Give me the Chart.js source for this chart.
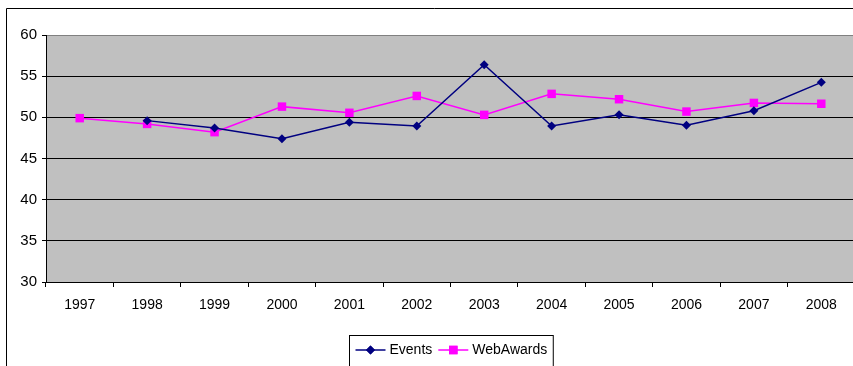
<!DOCTYPE html>
<html>
<head>
<meta charset="utf-8">
<script src="https://cdn.jsdelivr.net/npm/chart.js@4/dist/chart.umd.min.js"></script>
<style>
    html, body { margin: 0; padding: 0; background: #fff; overflow: hidden; }
    #wrap { width: 862px; height: 366px; }
</style>
</head>
<body>
<div id="wrap"><canvas id="lineChart" width="862" height="366"></canvas></div>
<script>
// Yearly values for the two series
const years = ['1997', '1998', '1999', '2000', '2001', '2002', '2003', '2004', '2005', '2006', '2007', '2008'];
const events = [null, 49.6, 48.7, 47.4, 49.4, 48.95, 56.4, 48.95, 50.3, 49.05, 50.8, 54.25];
const webAwards = [49.9, 49.2, 48.2, 51.3, 50.55, 52.6, 50.3, 52.85, 52.2, 50.7, 51.75, 51.65];
const yTicks = [30, 35, 40, 45, 50, 55, 60];

const fontFamily = '"Liberation Sans", Arial, sans-serif';

// Grey plot background, outer frame and boxed legend
const framePlugin = {
    id: 'frame',
    beforeDraw(chart) {
        const { ctx, chartArea } = chart;
        ctx.save();
        ctx.fillStyle = '#c0c0c0';
        ctx.fillRect(chartArea.left, chartArea.top, chartArea.right - chartArea.left, chartArea.bottom - chartArea.top);
        ctx.strokeStyle = '#000';
        ctx.lineWidth = 1;
        ctx.beginPath();
        ctx.moveTo(6.5, chart.height);
        ctx.lineTo(6.5, 8.5);
        ctx.lineTo(chart.width, 8.5);
        ctx.stroke();
        ctx.restore();
    },
    afterDraw(chart) {
        const { ctx, chartArea } = chart;
        const sets = chart.data.datasets;
        ctx.save();
        ctx.font = '14px ' + fontFamily;
        ctx.textBaseline = 'middle';
        const lineLen = 30, gap = 4, between = 6;
        let total = 0;
        sets.forEach((ds, i) => {
            total += lineLen + gap + ctx.measureText(ds.label).width + (i < sets.length - 1 ? between : 0);
        });
        const boxW = total + 12;
        const cx = (chartArea.left + chartArea.right) / 2;
        const boxX = Math.round(cx - boxW / 2) + 0.5;
        const boxY = 335.5;
        ctx.strokeStyle = '#000';
        ctx.lineWidth = 1;
        ctx.strokeRect(boxX, boxY, boxW, 40);
        let x = boxX + 6;
        const y = 350;
        sets.forEach(ds => {
            ctx.strokeStyle = ds.borderColor;
            ctx.lineWidth = ds.borderWidth;
            ctx.beginPath();
            ctx.moveTo(x, y);
            ctx.lineTo(x + lineLen, y);
            ctx.stroke();
            ctx.fillStyle = ds.pointBackgroundColor;
            Chart.helpers.drawPoint(ctx, {
                pointStyle: ds.pointStyle,
                radius: ds.pointRadius,
                borderWidth: 0,
                rotation: 0
            }, x + lineLen / 2, y);
            ctx.fill();
            x += lineLen + gap;
            ctx.fillStyle = '#000';
            ctx.fillText(ds.label, x, y);
            x += ctx.measureText(ds.label).width + between;
        });
        ctx.restore();
    }
};

const ctx = document.getElementById('lineChart').getContext('2d');
new Chart(ctx, {
    type: 'line',
    data: {
        labels: years,
        datasets: [
            {
                label: 'Events',
                data: events,
                borderColor: '#000080',
                backgroundColor: '#000080',
                pointBackgroundColor: '#000080',
                pointBorderColor: '#000080',
                borderWidth: 1.5,
                pointStyle: 'rectRot',
                pointRadius: 4.5,
                pointBorderWidth: 0,
                tension: 0,
                spanGaps: false
            },
            {
                label: 'WebAwards',
                data: webAwards,
                borderColor: '#ff00ff',
                backgroundColor: '#ff00ff',
                pointBackgroundColor: '#ff00ff',
                pointBorderColor: '#ff00ff',
                borderWidth: 1.5,
                pointStyle: 'rect',
                pointRadius: 6,
                pointBorderWidth: 0,
                tension: 0
            }
        ]
    },
    options: {
        responsive: false,
        animation: false,
        layout: {
            padding: { top: 35, left: 0, right: 7, bottom: 0 }
        },
        plugins: {
            legend: { display: false },
            tooltip: { enabled: false }
        },
        scales: {
            x: {
                offset: true,
                grid: {
                    offset: true,
                    drawOnChartArea: false,
                    drawTicks: true,
                    tickLength: 5,
                    tickColor: '#000'
                },
                border: { color: '#000', width: 1 },
                ticks: {
                    color: '#000',
                    font: { family: fontFamily, size: 14 },
                    padding: 10,
                    maxRotation: 0,
                    autoSkip: false
                },
                afterFit(scale) { scale.height = 84; }
            },
            y: {
                min: 30,
                max: 60,
                afterBuildTicks(scale) {
                    scale.ticks = yTicks.map(v => ({ value: v }));
                },
                grid: {
                    color: c => (c.tick && c.tick.value === 60 ? '#808080' : '#000'),
                    lineWidth: 1,
                    drawTicks: true,
                    tickLength: 4,
                    tickColor: '#000'
                },
                border: { color: '#000', width: 1 },
                ticks: {
                    color: '#000',
                    font: { family: fontFamily, size: 15 },
                    padding: 5
                },
                afterFit(scale) { scale.width = 46; }
            }
        }
    },
    plugins: [framePlugin]
});
</script>
</body>
</html>
